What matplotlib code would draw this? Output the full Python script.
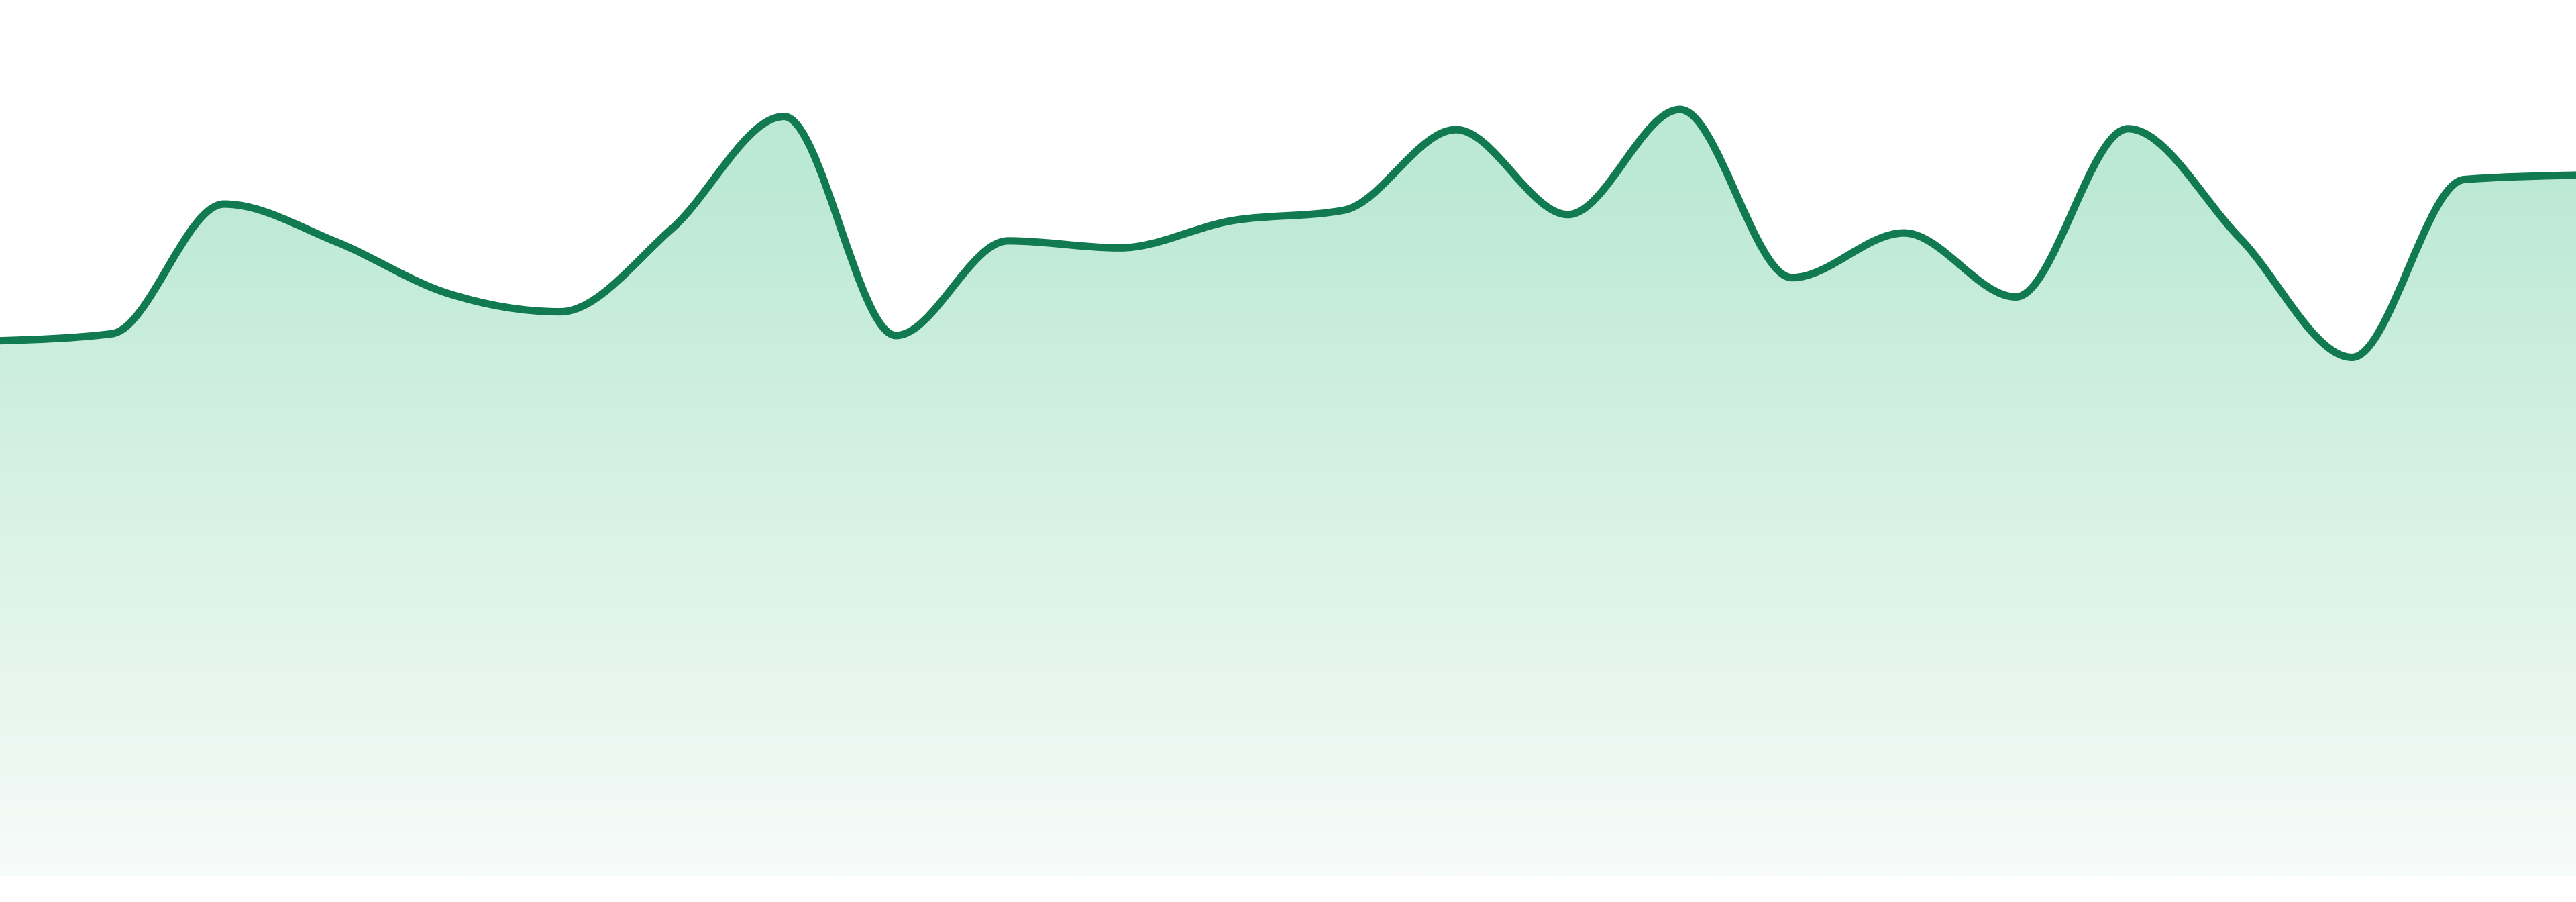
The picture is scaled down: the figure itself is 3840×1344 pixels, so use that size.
import numpy as np
import matplotlib
matplotlib.use("Agg")
import matplotlib.pyplot as plt
from matplotlib.path import Path
from matplotlib.patches import PathPatch
from matplotlib.colors import LinearSegmentedColormap

# values (0-100 scale, no axis shown)
x_vals = list(range(24))
y_vals = [61.1, 61.9, 76.7, 72.4, 66.5, 64.4, 73.9, 86.7, 61.7, 72.5, 71.7, 74.8,
          76.0, 85.2, 75.5, 87.5, 68.3, 73.4, 66.1, 85.3, 72.8, 59.2, 79.5, 80.0]

line_color = "#117a50"
fill_top = "#bce9d5"
fill_bottom = "#f7fbf9"


def monotone_path(xs, ys):
    # cubic bezier path like d3 curveMonotoneX
    xs = np.asarray(xs, float)
    ys = np.asarray(ys, float)
    n = len(xs)
    h = np.diff(xs)
    s = np.diff(ys) / h
    t = np.zeros(n)
    for i in range(1, n - 1):
        s0, s1 = s[i - 1], s[i]
        p = (s0 * h[i] + s1 * h[i - 1]) / (h[i - 1] + h[i])
        t[i] = (np.sign(s0) + np.sign(s1)) * min(abs(s0), abs(s1), 0.5 * abs(p))
    t[0] = (3 * s[0] - t[1]) / 2
    t[-1] = (3 * s[-1] - t[-2]) / 2
    verts = [(xs[0], ys[0])]
    codes = [Path.MOVETO]
    for i in range(n - 1):
        dx = h[i] / 3
        verts += [(xs[i] + dx, ys[i] + dx * t[i]),
                  (xs[i + 1] - dx, ys[i + 1] - dx * t[i + 1]),
                  (xs[i + 1], ys[i + 1])]
        codes += [Path.CURVE4] * 3
    return verts, codes


fig = plt.figure(figsize=(19.2, 6.72), dpi=200)
ax = fig.add_axes([0, 39 / 1344, 1, 1 - 39 / 1344])
ax.set_xlim(0, 23)
ax.set_ylim(0, 100)
ax.axis("off")

verts, codes = monotone_path(x_vals, y_vals)

# filled area under the curve with a vertical gradient
fill_verts = verts + [(x_vals[-1], 0), (x_vals[0], 0), verts[0]]
fill_codes = codes + [Path.LINETO, Path.LINETO, Path.CLOSEPOLY]
area = PathPatch(Path(fill_verts, fill_codes), facecolor="none", edgecolor="none")
ax.add_patch(area)
cmap = LinearSegmentedColormap.from_list("fade", [fill_bottom, fill_top])
grad = np.clip(np.linspace(0, 100, 512) / 80, 0, 1).reshape(-1, 1)
img = ax.imshow(grad, cmap=cmap, aspect="auto", origin="lower",
                extent=[0, 23, 0, 100], zorder=1, vmin=0, vmax=1)
img.set_clip_path(area)

line = PathPatch(Path(verts, codes), facecolor="none", edgecolor=line_color,
                 linewidth=4.0, capstyle="round", joinstyle="round", zorder=3)
ax.add_patch(line)

fig.savefig("out.png", dpi=200, facecolor="white")
